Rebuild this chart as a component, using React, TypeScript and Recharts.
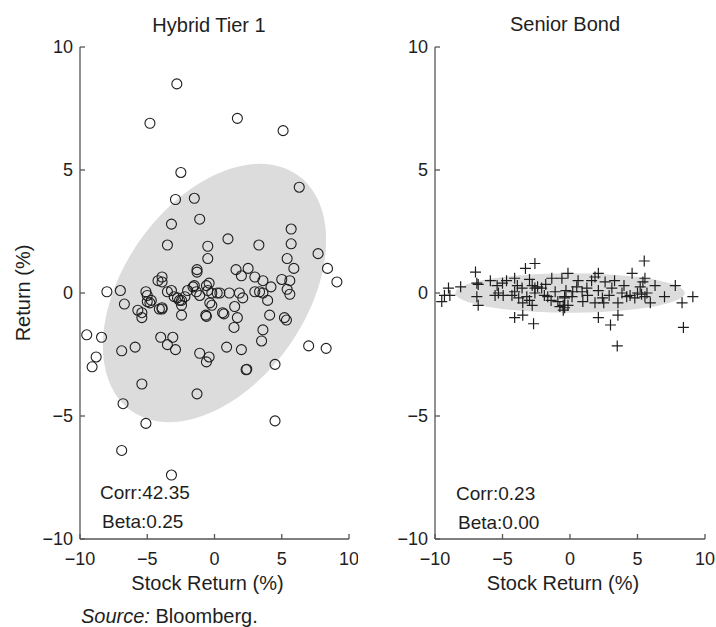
import React from "react";
import { ScatterChart, Scatter, XAxis, YAxis } from "recharts";

// Hybrid Tier 1: stock return (%) vs hybrid return (%)
const hybridStock = [
  -2.8, -4.8, 1.7, 5.1, -2.5, 6.3, -2.9, -1.5, -3.2, -1.1, -3.5, -0.5, -0.5, 1.0, 3.3, 5.7, 5.7, 5.4, 5.9, 7.7,
  8.4, 9.1, -1.3, -1.3, -3.9, -4.2, -3.9, 1.6, 2.5, 2.0, 3.0, 3.6, 4.2, 5.0, 5.6, 5.4, 5.6, -8.0, -7.0, -6.7,
  -5.1, -5.0, -4.7, -5.7, -5.4, -5.4, -4.1, -3.9, -3.5, -3.0, -2.75, -2.45, -2.2, -2.45, -2.45, -2.0, -1.5, -1.1, -0.6, -0.5,
  -0.2, -0.65, -0.6, -0.2, 0.6, 0.7, 0.2, -0.4, 1.1, 1.85, 2.1, 3.0, 3.35, 3.6, 3.95, 1.5, 1.7, 1.45, 4.1, 5.2,
  5.35, 3.6, 3.5, 0.9, 2.0, 7.0, 8.3, -9.5, -8.4, -8.8, -9.1, -6.9, -5.9, -4.0, -3.1, -3.5, -2.9, -1.1, -0.6, -0.4,
  2.4, 2.35, 4.5, -5.4, -6.8, -5.1, -6.9, -3.2, -1.3, 4.5, -4.8, -3.2, -1.35, -2.6, -0.35, 0.4, -1.6, -5.0, -3.9,
];
const hybridReturn = [
  8.5, 6.9, 7.1, 6.6, 4.9, 4.3, 3.8, 3.85, 2.8, 3.0, 1.95, 1.9, 1.4, 2.2, 1.95, 2.6, 2.0, 1.4, 1.0, 1.6,
  1.0, 0.45, 0.95, 0.85, 0.65, 0.5, 0.45, 0.95, 1.0, 0.7, 0.65, 0.5, 0.25, 0.55, 0.5, 0.15, -0.05, 0.05, 0.1, -0.45,
  0.05, -0.1, -0.3, -0.7, -0.8, -1.0, -0.65, -0.65, 0.05, -0.15, -0.2, -0.3, -0.15, -0.5, -0.9, 0.1, 0.3, -0.1, 0.3, 0.1,
  0.0, -0.9, -0.95, -0.5, -0.8, -0.85, 0.0, 0.4, 0.0, 0.0, -0.2, 0.05, 0.05, 0.0, -0.3, -0.55, -1.0, -1.4, -0.9, -1.0,
  -1.1, -1.5, -1.95, -2.2, -2.3, -2.15, -2.25, -1.7, -1.8, -2.6, -3.0, -2.35, -2.2, -1.8, -1.8, -2.1, -2.3, -2.45, -2.8, -2.6,
  -3.1, -3.12, -2.9, -3.7, -4.5, -5.3, -6.4, -7.4, -4.1, -5.2, -0.4, 0.1, 0.05, -0.3, -0.4, 0.0, 0.25, -0.35, -0.6,
];

// Senior Bond: stock return (%) vs senior bond return (%)
const seniorStock = [
  -7.0, -3.3, -2.6, -6.9, -6.8, -9.0, -8.1, -9.3, -8.9, -9.5, -6.9, -6.8, -5.9, -5.4, -5.0, -5.3, -5.55, -4.95, -4.7, -4.1,
  -3.9, -4.1, -3.55, -3.0, -2.8, -2.6, -2.4, -2.6, -3.2, -3.0, -3.5, -2.8, -4.1, -3.5, -2.7, -2.1, -1.35, -0.6, -1.65, -1.1,
  -0.9, -0.5, -0.4, -0.3, 5.5, 4.6, 2.1, -0.15, 0.6, 1.6, 1.85, 2.6, 3.3, 3.1, 2.1, 1.25, 0.9, 0.2, 0.15, 0.95,
  1.85, 2.4, 2.5, 3.55, 3.85, 4.2, 4.45, 5.0, 5.2, 5.4, 5.55, 5.7, 5.55, 5.95, 6.3, 7.0, 7.8, 8.3, 9.1, 8.4,
  2.1, 3.55, 3.0, 3.5, -0.4, -0.15, -0.4, -0.75, -0.5, -1.8, -1.9, 0.5, 1.3, 4.8, 5.3, -4.3, -3.8, -1.4, 4.0, 2.9,
];
const seniorReturn = [
  0.85, 1.0, 1.2, 0.4, 0.35, 0.2, 0.25, -0.1, -0.1, -0.35, -0.15, -0.5, 0.5, 0.3, 0.4, 0.0, -0.1, -0.1, 0.5, 0.6,
  0.3, 0.05, 0.2, 0.55, 0.3, 0.2, 0.25, 0.0, -0.15, -0.3, -0.4, -0.5, -1.0, -0.9, -1.25, 0.2, 0.6, 0.6, -0.15, 0.05,
  -0.35, -0.5, -0.15, 0.1, 1.3, 0.8, 0.8, 0.8, 0.5, 0.5, 0.65, 0.45, 0.5, 0.2, 0.1, 0.2, 0.05, 0.05, -0.15, -0.35,
  -0.4, -0.2, -0.4, -0.4, 0.0, -0.15, -0.1, 0.0, 0.25, 0.45, 0.6, 0.0, -0.15, -0.4, 0.3, -0.15, 0.3, -0.4, -0.15, -1.4,
  -1.0, -0.9, -1.3, -2.15, -0.2, -0.5, -0.6, -0.55, -0.7, 0.35, -0.1, 0.25, -0.1, -0.2, -0.05, -0.1, -0.2, -0.3, 0.3, -0.1,
];

const axisTicks = [-10, -5, 0, 5, 10];

// shaded ellipses in data units: x = a*cos t, y = b*sin(t + phase)
const hybridEllipse = { a: 8.3, b: 5.25, phase: 0.42 };
const seniorEllipse = { a: 8.5, b: 0.8, phase: 0 };

const FONT = '"Liberation Sans", Arial, Helvetica, sans-serif';
const INK = "#1e1e1e";
const AXIS = "#555";

const toPoints = (xs: number[], ys: number[]) => xs.map((x, i) => ({ x, y: ys[i] }));

const outline = (e: { a: number; b: number; phase: number }) => {
  const pts: { x: number; y: number }[] = [];
  for (let i = 0; i < 120; i++) {
    const t = (i / 120) * Math.PI * 2;
    pts.push({ x: e.a * Math.cos(t), y: e.b * Math.sin(t + e.phase) });
  }
  return pts;
};

const fmt = (v: number) => (v < 0 ? "\u2212" + Math.abs(v) : String(v));

const ellipseLine = (p: any) => {
  const pts = p.points || [];
  const d = pts.map((pt: any, i: number) => `${i ? "L" : "M"}${pt.x},${pt.y}`).join("") + "Z";
  return <path d={d} fill="#dcdcdd" stroke="none" />;
};

const Circle = (p: any) => (
  <circle cx={p.cx} cy={p.cy} r={5} fill="none" stroke={INK} strokeWidth={1.1} />
);

const Plus = (p: any) => (
  <path d={`M${p.cx - 5.5},${p.cy}H${p.cx + 5.5}M${p.cx},${p.cy - 5.5}V${p.cy + 5.5}`} stroke={INK} strokeWidth={1.2} fill="none" />
);

const Empty = () => <g />;

type PanelProps = {
  points: { x: number; y: number }[];
  ellipse: { x: number; y: number }[];
  marker: (p: any) => React.ReactElement;
  margin: { top: number; right: number; bottom: number; left: number };
  yLabel?: string;
};

const Panel = ({ points, ellipse, marker, margin, yLabel }: PanelProps) => (
  <ScatterChart width={358} height={627} margin={margin}>
    <XAxis
      type="number"
      dataKey="x"
      domain={[-10, 10]}
      ticks={axisTicks}
      tickFormatter={fmt}
      tickSize={-5}
      tickMargin={18}
      height={50}
      axisLine={{ stroke: AXIS, strokeWidth: 1.3 }}
      tickLine={{ stroke: AXIS, strokeWidth: 1.3 }}
      tick={{ fontSize: 18, fill: INK }}
      label={{
        content: (lp: any) => {
          const vb = lp.viewBox || { x: 0, width: 0, y: 0 };
          return (
            <text x={vb.x + vb.width / 2 - 7} y={vb.y + 51} textAnchor="middle" fontSize={20} fill={INK}>
              Stock Return (%)
            </text>
          );
        },
      }}
    />
    <YAxis
      type="number"
      dataKey="y"
      domain={[-10, 10]}
      ticks={axisTicks}
      tickFormatter={fmt}
      tickSize={-5}
      tickMargin={12}
      width={60}
      axisLine={{ stroke: AXIS, strokeWidth: 1.3 }}
      tickLine={{ stroke: AXIS, strokeWidth: 1.3 }}
      tick={{ fontSize: 18, fill: INK }}
      label={
        yLabel
          ? { value: yLabel, angle: -90, position: "insideLeft", offset: 3, style: { textAnchor: "middle", fontSize: 20, fill: INK } }
          : undefined
      }
    />
    <Scatter data={ellipse} shape={Empty} line={ellipseLine} lineJointType="linear" isAnimationActive={false} />
    <Scatter data={points} shape={marker} isAnimationActive={false} />
  </ScatterChart>
);

export default function App() {
  return (
    <div style={{ position: "absolute", left: 0, top: 0, width: 716, height: 627, background: "#fff", fontFamily: FONT }}>
      <div style={{ position: "absolute", left: 0, top: 0 }}>
        <Panel
          points={toPoints(hybridStock, hybridReturn)}
          ellipse={outline(hybridEllipse)}
          marker={Circle}
          margin={{ top: 47, right: 9, bottom: 38, left: 20 }}
          yLabel="Return (%)"
        />
      </div>
      <div style={{ position: "absolute", left: 358, top: 0 }}>
        <Panel
          points={toPoints(seniorStock, seniorReturn)}
          ellipse={outline(seniorEllipse)}
          marker={Plus}
          margin={{ top: 47, right: 11, bottom: 38, left: 17 }}
        />
      </div>
      <svg width={716} height={627} style={{ position: "absolute", left: 0, top: 0, pointerEvents: "none" }} fontFamily={FONT} fill={INK}>
        <text x={209} y={32} textAnchor="middle" fontSize={20}>Hybrid Tier 1</text>
        <text x={565} y={31} textAnchor="middle" fontSize={20}>Senior Bond</text>
        <text x={100} y={499} fontSize={19}>Corr:42.35</text>
        <text x={102} y={528} fontSize={19}>Beta:0.25</text>
        <text x={456} y={500} fontSize={19}>Corr:0.23</text>
        <text x={458} y={529} fontSize={19}>Beta:0.00</text>
        <text x={81} y={623} fontSize={20}>
          <tspan fontStyle="italic">Source:</tspan> Bloomberg.
        </text>
      </svg>
    </div>
  );
}
